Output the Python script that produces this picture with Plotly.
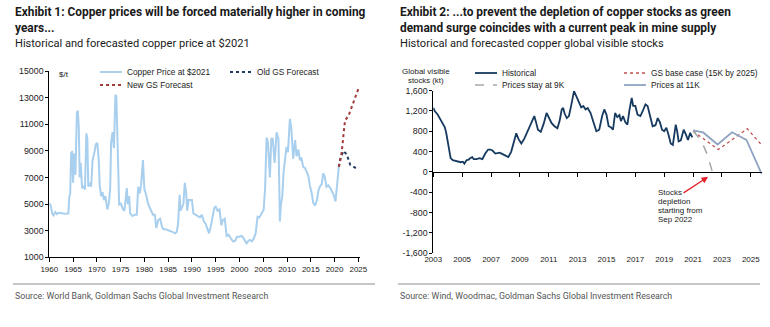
import plotly.graph_objects as go

# ---------------- Data: Exhibit 1 ----------------
copper_years = [1960.0,1960.3,1960.6,1960.9,1961.3,1961.6,1962.0,1962.5,1963.0,1963.5,1964.0,1964.2,1964.4,1964.6,1964.7,1964.8,1965.0,1965.2,1965.5,1965.8,1966.0,1966.2,1966.4,1966.6,1966.9,1967.2,1967.5,1967.8,1968.0,1968.2,1968.5,1968.8,1969.1,1969.5,1969.8,1970.1,1970.4,1970.6,1970.9,1971.2,1971.5,1971.8,1972.2,1972.5,1972.8,1973.0,1973.3,1973.6,1973.9,1974.1,1974.4,1974.7,1975.0,1975.5,1975.8,1976.3,1976.5,1976.8,1977.0,1977.5,1978.0,1978.4,1978.7,1979.0,1979.3,1979.7,1980.0,1980.3,1980.8,1981.3,1981.8,1982.2,1982.5,1982.9,1983.3,1983.7,1984.0,1984.5,1985.0,1985.5,1986.0,1986.4,1986.8,1987.1,1987.4,1987.6,1987.9,1988.2,1988.5,1988.8,1989.0,1989.3,1989.6,1990.0,1990.3,1990.7,1991.2,1991.7,1992.1,1992.5,1992.9,1993.3,1993.6,1994.0,1994.3,1994.7,1995.0,1995.4,1995.8,1996.2,1996.5,1996.9,1997.3,1997.7,1998.2,1998.7,1999.1,1999.5,2000.0,2000.5,2000.9,2001.5,2001.9,2002.2,2002.6,2003.0,2003.4,2003.8,2004.2,2004.7,2005.1,2005.4,2005.7,2006.0,2006.4,2006.7,2007.0,2007.4,2007.8,2008.2,2008.35,2008.5,2008.7,2009.0,2009.3,2009.6,2009.9,2010.2,2010.6,2010.9,2011.3,2011.7,2012.0,2012.4,2012.7,2013.0,2013.4,2013.8,2014.1,2014.5,2014.8,2015.2,2015.5,2015.9,2016.3,2016.6,2016.9,2017.3,2017.6,2017.9,2018.3,2018.7,2019.1,2019.5,2019.8,2020.2,2020.5,2020.9]
copper_vals = [5050,4900,4300,4150,4400,4250,4350,4300,4300,4280,4300,5500,5800,8900,7300,9000,6600,8800,7200,11900,12000,10800,7000,8100,6200,6300,6100,10300,9900,6300,6600,6300,8300,8900,9500,9600,8300,6400,5600,5900,5300,5600,4600,5000,6100,9600,10400,9200,13200,13100,8300,4900,5100,4600,4500,6200,5000,5600,4300,4100,4200,4200,6300,5800,6400,8300,6100,5800,5000,4600,4200,4200,3200,3800,3900,3300,3100,3100,3050,2950,2900,2800,2900,3550,5700,4500,4800,5000,6600,5800,4500,5300,5300,5300,4300,4200,4100,4000,4200,3700,3500,3000,2800,3400,4050,4700,4800,4500,4600,3400,3800,3900,2600,2700,2400,2180,2250,2550,2550,2600,2400,2050,2250,2300,2200,2400,2800,4050,4000,4300,4600,6300,10000,9600,7000,9900,9900,8100,10400,9900,7500,3700,4900,5600,7500,8500,9300,8900,11400,10700,8400,9800,8600,9100,8300,8500,7800,7700,7400,7100,6400,5800,5100,4900,5300,6000,6300,6500,7300,7100,6300,6400,6200,5900,5700,5200,6500,7800]
old_fc_years = [2020.9, 2021.3, 2021.9, 2022.6, 2023.3, 2024.0, 2025.0]
old_fc_vals = [7800, 8500, 9000, 8700, 7950, 7800, 7600]
new_fc_years = [2020.9, 2021.5, 2022.2, 2022.9, 2025.0]
new_fc_vals = [7800, 8900, 11300, 11600, 13650]
left_xticks = [1960,1965,1970,1975,1980,1985,1990,1995,2000,2005,2010,2015,2020,2025]
left_yticks = [1000,3000,5000,7000,9000,11000,13000,15000]
left_yticktext = ["1000","3000","5000","7000","9000","11000","13000","15000"]

# ---------------- Data: Exhibit 2 ----------------
hist_years = [2003.0,2003.1,2003.3,2003.5,2003.7,2003.8,2003.9,2004.0,2004.1,2004.2,2004.35,2004.5,2004.7,2004.9,2005.05,2005.15,2005.3,2005.45,2005.55,2005.7,2005.8,2006.0,2006.2,2006.4,2006.6,2006.8,2006.95,2007.1,2007.3,2007.45,2007.6,2007.8,2008.0,2008.2,2008.4,2008.55,2008.75,2008.9,2009.1,2009.3,2009.45,2009.7,2009.9,2010.0,2010.1,2010.25,2010.45,2010.65,2010.85,2011.0,2011.2,2011.4,2011.6,2011.75,2011.9,2012.0,2012.1,2012.25,2012.4,2012.55,2012.7,2012.75,2012.9,2013.1,2013.25,2013.4,2013.55,2013.7,2013.9,2014.1,2014.3,2014.5,2014.7,2014.85,2015.0,2015.15,2015.3,2015.45,2015.6,2015.75,2015.9,2016.0,2016.15,2016.3,2016.45,2016.6,2016.75,2016.85,2017.0,2017.15,2017.35,2017.5,2017.7,2017.85,2018.0,2018.2,2018.4,2018.55,2018.7,2018.85,2019.0,2019.15,2019.3,2019.45,2019.6,2019.8,2019.9,2020.0,2020.15,2020.35,2020.5,2020.65,2020.8,2020.95]
hist_vals = [1260,1200,1130,1040,930,880,760,570,380,270,230,220,205,190,200,160,230,240,270,290,250,250,270,250,360,440,440,420,360,370,380,350,320,290,400,560,760,650,560,650,740,900,1030,1100,1000,830,790,950,1160,1080,960,900,860,1000,1230,1260,1150,1060,1100,1300,1520,1590,1500,1380,1270,1300,1230,1260,1160,980,800,830,1100,1230,1130,900,880,830,1160,1080,1120,1000,1100,980,930,1230,1460,1300,1300,1130,1100,1190,1330,1300,1130,900,920,1060,980,830,800,870,730,560,530,930,800,600,620,830,740,630,770,680]
base_years = [2021.0, 2022.75, 2024.75, 2025.75]
base_vals = [800, 440, 850, 530]
k9_years = [2021.0, 2021.6, 2022.0, 2022.4]
k9_vals = [810, 600, 330, -60]
k11_years = [2021.0, 2021.7, 2022.7, 2023.7, 2024.7, 2025.75]
k11_vals = [816, 777, 540, 780, 630, -40]
right_xticks = [2003,2005,2007,2009,2011,2013,2015,2017,2019,2021,2023,2025]
right_yticks = [-1600,-1200,-800,-400,0,400,800,1200,1600]
right_yticktext = ["-1,600","-1,200","-800","-400","0","400","800","1,200","1,600"]

W, H = 770, 327
def px(x): return x / W
def py(y): return 1 - y / H

TITLE = "Roboto, sans-serif"
SANS = "Liberation Sans, Arial, sans-serif"

styles = {
    "Copper Price at $2021": dict(color="#a9cfee", width=2),
    "Old GS Forecast": dict(color="#1f3864", width=2, dash="dot"),
    "New GS Forecast": dict(color="#a33a3a", width=2, dash="dot"),
    "Historical": dict(color="#163a5f", width=1.8),
    "GS base case (15K by 2025)": dict(color="#c0504d", width=1.3, dash="dot"),
    "Prices stay at 9K": dict(color="#a6a6a6", width=1.5, dash="dash"),
    "Prices at 11K": dict(color="#8fa4c2", width=1.8),
}

fig = go.Figure()
series = [
    ("Copper Price at $2021", copper_years, copper_vals, "x", "y"),
    ("Old GS Forecast", old_fc_years, old_fc_vals, "x", "y"),
    ("New GS Forecast", new_fc_years, new_fc_vals, "x", "y"),
    ("Historical", hist_years, hist_vals, "x2", "y2"),
    ("GS base case (15K by 2025)", base_years, base_vals, "x2", "y2"),
    ("Prices stay at 9K", k9_years, k9_vals, "x2", "y2"),
    ("Prices at 11K", k11_years, k11_vals, "x2", "y2"),
]
for name, xs, ys, xa, ya in series:
    fig.add_trace(go.Scatter(x=xs, y=ys, mode="lines", name=name, line=styles[name],
                             xaxis=xa, yaxis=ya, showlegend=False))
# invisible trace so the zero-line axis renders
fig.add_trace(go.Scatter(x=[2003], y=[0], mode="markers", marker=dict(opacity=0), showlegend=False,
                         hoverinfo="skip", xaxis="x3", yaxis="y2"))

xtickfont = dict(family=SANS, size=8, color="#222")
ytickfont = dict(family=SANS, size=8.8, color="#222")

fig.update_layout(
    width=W, height=H, margin=dict(l=0, r=0, t=0, b=0),
    paper_bgcolor="white", plot_bgcolor="white", showlegend=False,
    xaxis=dict(domain=[px(49.3), px(360)], range=[1960, 2025.35], tickvals=left_xticks, automargin=False,
               showgrid=False, zeroline=False, showline=True, linecolor="#000", linewidth=1,
               ticks="outside", ticklen=4, tickcolor="#000", tickfont=xtickfont, anchor="y"),
    yaxis=dict(domain=[py(257.3), py(71)], range=[1000, 15000], tickvals=left_yticks,
               ticktext=left_yticktext, automargin=False,
               showgrid=False, zeroline=False, showline=True, linecolor="#000", linewidth=1,
               ticks="outside", ticklen=3, tickcolor="#000", tickfont=ytickfont, anchor="x"),
    xaxis2=dict(domain=[px(433.3), px(761.6)], range=[2003, 2025.75], tickvals=right_xticks, automargin=False,
                showgrid=False, zeroline=False, showline=False, ticks="", tickfont=xtickfont, anchor="y2"),
    xaxis3=dict(domain=[px(433.3), px(761.6)], range=[2003, 2025.75], tickvals=right_xticks, automargin=False,
                overlaying="x2", anchor="free", position=(py(253) + py(90.7)) / 2,
                showgrid=False, zeroline=False, showline=True, linecolor="#000", linewidth=1,
                ticks="outside", ticklen=4, tickcolor="#000", showticklabels=False),
    yaxis2=dict(domain=[py(253), py(90.7)], range=[-1600, 1600], tickvals=right_yticks,
                ticktext=right_yticktext, automargin=False, showgrid=False, zeroline=False, showline=True,
                linecolor="#000", linewidth=1, ticks="outside", ticklen=3, tickcolor="#000",
                tickfont=ytickfont, anchor="x2"),
)

title_font = dict(family=TITLE, size=11.9, color="#1a1a1a")
sub_font = dict(family=TITLE, size=11.1, color="#1a1a1a")
src_font = dict(family=TITLE, size=8.8, color="#555")

def ann(x, y, text, font, xanchor="left"):
    fig.add_annotation(x=px(x), y=py(y), xref="paper", yref="paper", text=text, showarrow=False,
                       xanchor=xanchor, yanchor="middle", font=font, align="left")

ann(13, 12, "<b>Exhibit 1: Copper prices will be forced materially higher in coming</b>", title_font)
ann(13, 28, "<b>years...</b>", title_font)
ann(13, 44, "Historical and forecasted copper price at $2021", sub_font)
ann(13, 296, "Source: World Bank, Goldman Sachs Global Investment Research", src_font)

ann(398, 12, "<b>Exhibit 2: ...to prevent the depletion of copper stocks as green</b>", title_font)
ann(398, 28, "<b>demand surge coincides with a current peak in mine supply</b>", title_font)
ann(398, 44, "Historical and forecasted copper global visible stocks", sub_font)
ann(398, 296, "Source: Wind, Woodmac, Goldman Sachs Global Investment Research", src_font)

small = dict(family=SANS, size=8, color="#222")
ann(57, 74, "$/t", small)
ann(426, 71.5, "Global visible", small, xanchor="center")
ann(426, 80.5, "stocks (kt)", dict(family=SANS, size=7.8, color="#222"), xanchor="center")
for i, t in enumerate(["Stocks", "depletion", "starting from", "Sep 2022"]):
    ann(656, 192 + 9 * i, t, small)

fig.add_annotation(x=2022.04, y=-99, xref="x2", yref="y2", ax=-26, ay=17, axref="pixel", ayref="pixel",
                   text="", showarrow=True, arrowhead=2, arrowsize=1, arrowwidth=1.3, arrowcolor="#e3202a")

# legend (sample line + label) for each series
legend_pos = {
    "Copper Price at $2021": (100, 72),
    "Old GS Forecast": (230, 72),
    "New GS Forecast": (100, 85),
    "Historical": (475, 73),
    "GS base case (15K by 2025)": (624, 73),
    "Prices stay at 9K": (475, 85),
    "Prices at 11K": (624, 85),
}
legfont = dict(family=SANS, size=8.3, color="#222")
for name, (lx, ly) in legend_pos.items():
    st = styles[name]
    fig.add_shape(type="line", xref="paper", yref="paper", x0=px(lx), x1=px(lx + 22), y0=py(ly), y1=py(ly),
                  line=dict(color=st["color"], width=st["width"], dash=st.get("dash", "solid")))
    ann(lx + 25, ly, name, legfont)

for x0, x1 in [(13, 375), (398, 760)]:
    fig.add_shape(type="line", xref="paper", yref="paper", x0=px(x0), x1=px(x1), y0=py(284), y1=py(284),
                  line=dict(color="#8c8c8c", width=1))

fig.write_html("out.html")
